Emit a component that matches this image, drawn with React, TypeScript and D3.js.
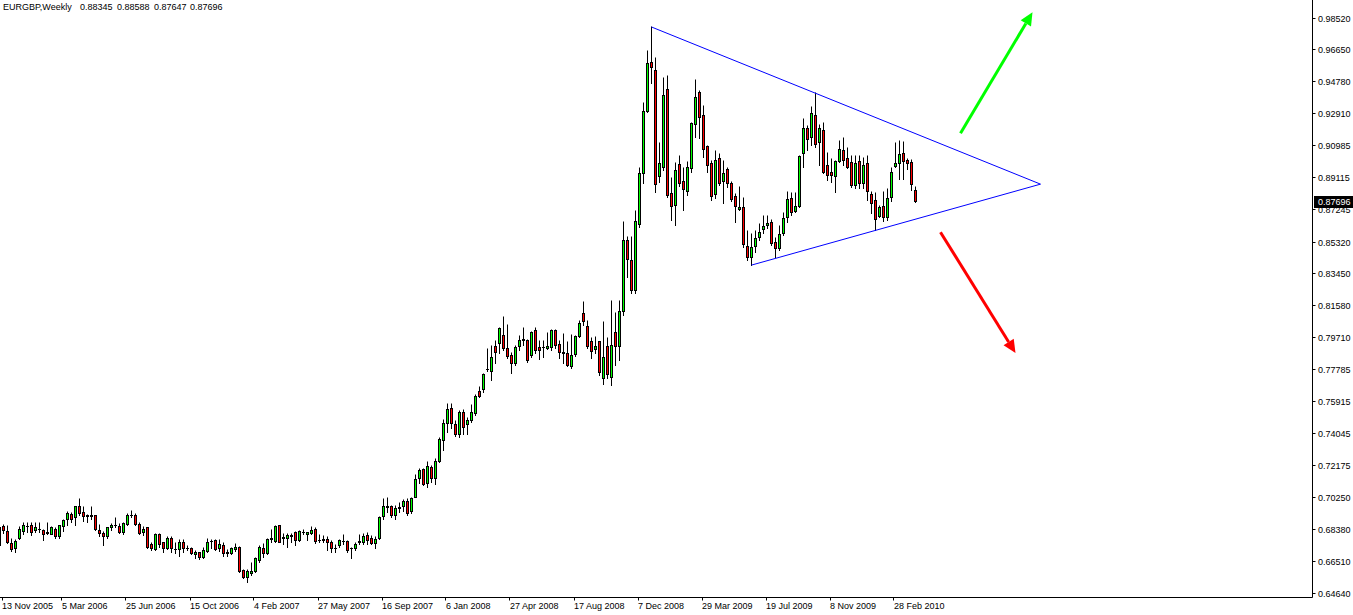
import React, { useEffect, useRef } from "react";
import * as d3 from "d3";

// EURGBP weekly bars, first bar = week of 13 Nov 2005
const symbolName = "EURGBP,Weekly";

const opens = [
  0.6746, 0.6853, 0.6829, 0.6753, 0.6729, 0.6788, 0.6829, 0.6853, 0.6864, 0.6835,
  0.6841, 0.6835, 0.6817, 0.6811, 0.6841, 0.6794, 0.6853, 0.6900, 0.6929, 0.6906,
  0.6971, 0.6941, 0.6918, 0.6915, 0.6918, 0.6835, 0.6817, 0.6794, 0.6847, 0.6859,
  0.6853, 0.6823, 0.6870, 0.6918, 0.6918, 0.6870, 0.6823, 0.6847, 0.6747, 0.6723,
  0.6811, 0.6759, 0.6729, 0.6788, 0.6723, 0.6723, 0.6759, 0.6729, 0.6729, 0.6688,
  0.6700, 0.6676, 0.6711, 0.6770, 0.6776, 0.6729, 0.6741, 0.6700, 0.6694, 0.6723,
  0.6735, 0.6594, 0.6558, 0.6576, 0.6588, 0.6658, 0.6729, 0.6694, 0.6782, 0.6770,
  0.6859, 0.6788, 0.6788, 0.6800, 0.6823, 0.6776, 0.6823, 0.6811, 0.6817, 0.6841,
  0.6776, 0.6776, 0.6782, 0.6764, 0.6729, 0.6741, 0.6770, 0.6770, 0.6729, 0.6729,
  0.6759, 0.6764, 0.6800, 0.6788, 0.6753, 0.6788, 0.6912, 0.6965, 0.6971, 0.6923,
  0.6959, 0.6971, 0.7006, 0.6947, 0.7029, 0.7136, 0.7194, 0.7112, 0.7206, 0.7136,
  0.7236, 0.7365, 0.7465, 0.7554, 0.7454, 0.7395, 0.7530, 0.7454, 0.7483, 0.7524,
  0.7654, 0.7666, 0.7778, 0.7772, 0.7919, 0.7937, 0.7984, 0.7907, 0.7866, 0.7819,
  0.7919, 0.7954, 0.7954, 0.7866, 0.8013, 0.7913, 0.7913, 0.7907, 0.7913, 0.8013,
  0.7931, 0.7883, 0.7878, 0.7801, 0.7872, 0.7978, 0.8113, 0.8037, 0.7943, 0.7901,
  0.7943, 0.7730, 0.7919, 0.7736, 0.7996, 0.7919, 0.8125, 0.8543, 0.8426, 0.8249,
  0.8637, 0.8938, 0.9303, 0.9592, 0.9545, 0.8920, 0.8973, 0.9433, 0.8820, 0.8749,
  0.8991, 0.8891, 0.8832, 0.8967, 0.9226, 0.9415, 0.9279, 0.9097, 0.8997, 0.8814,
  0.9026, 0.8891, 0.8962, 0.8879, 0.8802, 0.8726, 0.8738, 0.8508, 0.8443, 0.8508,
  0.8561, 0.8608, 0.8632, 0.8649, 0.8531, 0.8496, 0.8585, 0.8679, 0.8791, 0.8714,
  0.8744, 0.9056, 0.9203, 0.9150, 0.9279, 0.9120, 0.9191, 0.8985, 0.8944, 0.8920,
  0.9009, 0.9073, 0.9026, 0.9003, 0.8867, 0.9009, 0.8879, 0.8997, 0.8814, 0.8779,
  0.8685, 0.8744, 0.8679, 0.8797, 0.8979, 0.8997, 0.9056, 0.9015, 0.9003, 0.88345,
];

const highs = [
  0.6876, 0.6870, 0.6859, 0.6788, 0.6782, 0.6853, 0.6882, 0.6882, 0.6882, 0.6882,
  0.6882, 0.6838, 0.6882, 0.6853, 0.6847, 0.6864, 0.6900, 0.6947, 0.6941, 0.6976,
  0.7018, 0.6971, 0.6929, 0.6976, 0.6921, 0.6870, 0.6829, 0.6850, 0.6876, 0.6906,
  0.6876, 0.6882, 0.6935, 0.6953, 0.6935, 0.6882, 0.6853, 0.6850, 0.6759, 0.6817,
  0.6817, 0.6764, 0.6794, 0.6794, 0.6759, 0.6782, 0.6782, 0.6741, 0.6735, 0.6717,
  0.6705, 0.6735, 0.6788, 0.6782, 0.6779, 0.6782, 0.6759, 0.6723, 0.6735, 0.6753,
  0.6738, 0.6605, 0.6600, 0.6641, 0.6676, 0.6741, 0.6753, 0.6788, 0.6841, 0.6864,
  0.6864, 0.6817, 0.6817, 0.6817, 0.6829, 0.6835, 0.6841, 0.6823, 0.6853, 0.6847,
  0.6806, 0.6800, 0.6794, 0.6776, 0.6747, 0.6782, 0.6806, 0.6776, 0.6735, 0.6764,
  0.6811, 0.6817, 0.6823, 0.6800, 0.6794, 0.6912, 0.7018, 0.7029, 0.6982, 0.6982,
  0.7000, 0.7012, 0.7018, 0.7024, 0.7165, 0.7200, 0.7200, 0.7236, 0.7218, 0.7259,
  0.7383, 0.7489, 0.7583, 0.7583, 0.7483, 0.7542, 0.7548, 0.7501, 0.7577, 0.7636,
  0.7683, 0.7760, 0.7907, 0.7925, 0.7954, 0.8031, 0.8096, 0.8048, 0.7883, 0.7925,
  0.7984, 0.8031, 0.7960, 0.8007, 0.8031, 0.7954, 0.7954, 0.8001, 0.8019, 0.8019,
  0.7954, 0.7995, 0.7943, 0.7990, 0.7984, 0.8072, 0.8184, 0.8072, 0.7972, 0.7978,
  0.7946, 0.8066, 0.7972, 0.8190, 0.8119, 0.8190, 0.8655, 0.8567, 0.8567, 0.8720,
  0.8973, 0.9356, 0.9663, 0.9799, 0.9622, 0.9120, 0.9504, 0.9515, 0.8914, 0.9003,
  0.9044, 0.8973, 0.9009, 0.9238, 0.9491, 0.9427, 0.9338, 0.9103, 0.9015, 0.9073,
  0.9056, 0.9015, 0.8973, 0.8891, 0.8820, 0.8861, 0.8796, 0.8602, 0.8585, 0.8602,
  0.8643, 0.8690, 0.8690, 0.8667, 0.8561, 0.8632, 0.8708, 0.8832, 0.8826, 0.8826,
  0.9044, 0.9262, 0.9221, 0.9332, 0.9415, 0.9226, 0.9238, 0.9062, 0.9026, 0.9015,
  0.9132, 0.9150, 0.9091, 0.9044, 0.9044, 0.9044, 0.9032, 0.9044, 0.8832, 0.8826,
  0.8749, 0.8832, 0.8850, 0.8973, 0.9120, 0.9132, 0.9126, 0.9026, 0.9020, 0.88588,
];

const lows = [
  0.6717, 0.6817, 0.6753, 0.6711, 0.6705, 0.6782, 0.6806, 0.6823, 0.6800, 0.6823,
  0.6823, 0.6776, 0.6811, 0.6806, 0.6788, 0.6788, 0.6829, 0.6864, 0.6882, 0.6859,
  0.6923, 0.6888, 0.6882, 0.6900, 0.6835, 0.6794, 0.6741, 0.6788, 0.6835, 0.6847,
  0.6817, 0.6806, 0.6864, 0.6906, 0.6864, 0.6806, 0.6800, 0.6729, 0.6717, 0.6717,
  0.6735, 0.6705, 0.6723, 0.6705, 0.6694, 0.6682, 0.6700, 0.6717, 0.6688, 0.6670,
  0.6664, 0.6670, 0.6705, 0.6729, 0.6717, 0.6711, 0.6682, 0.6682, 0.6688, 0.6711,
  0.6582, 0.6552, 0.6523, 0.6570, 0.6582, 0.6641, 0.6676, 0.6688, 0.6764, 0.6764,
  0.6759, 0.6747, 0.6735, 0.6764, 0.6741, 0.6770, 0.6806, 0.6776, 0.6811, 0.6753,
  0.6759, 0.6759, 0.6717, 0.6705, 0.6700, 0.6735, 0.6747, 0.6705, 0.6670, 0.6717,
  0.6747, 0.6747, 0.6747, 0.6747, 0.6729, 0.6782, 0.6900, 0.6941, 0.6906, 0.6900,
  0.6941, 0.6947, 0.6923, 0.6935, 0.7024, 0.7112, 0.7100, 0.7083, 0.7118, 0.7106,
  0.7230, 0.7306, 0.7412, 0.7436, 0.7389, 0.7383, 0.7395, 0.7395, 0.7471, 0.7512,
  0.7613, 0.7648, 0.7772, 0.7719, 0.7819, 0.7878, 0.7895, 0.7848, 0.7760, 0.7807,
  0.7895, 0.7925, 0.7825, 0.7854, 0.7878, 0.7842, 0.7854, 0.7901, 0.7895, 0.7907,
  0.7848, 0.7819, 0.7801, 0.7789, 0.7860, 0.7972, 0.8043, 0.7907, 0.7848, 0.7878,
  0.7748, 0.7695, 0.7730, 0.7689, 0.7807, 0.7836, 0.8101, 0.8325, 0.8231, 0.8231,
  0.8620, 0.8879, 0.9297, 0.9468, 0.8826, 0.8885, 0.8956, 0.8796, 0.8661, 0.8632,
  0.8861, 0.8720, 0.8808, 0.8944, 0.9150, 0.9144, 0.9032, 0.8944, 0.8779, 0.8791,
  0.8867, 0.8761, 0.8855, 0.8773, 0.8649, 0.8720, 0.8502, 0.8426, 0.8396, 0.8473,
  0.8543, 0.8585, 0.8614, 0.8514, 0.8443, 0.8484, 0.8573, 0.8649, 0.8690, 0.8708,
  0.8738, 0.8973, 0.9073, 0.9103, 0.9091, 0.8985, 0.8938, 0.8897, 0.8885, 0.8826,
  0.9003, 0.8985, 0.8967, 0.8855, 0.8849, 0.8849, 0.8849, 0.8779, 0.8702, 0.8602,
  0.8679, 0.8655, 0.8661, 0.8773, 0.8973, 0.8903, 0.8903, 0.8961, 0.8838, 0.87647,
];

const closes = [
  0.6847, 0.6835, 0.6759, 0.6723, 0.6770, 0.6841, 0.6864, 0.6856, 0.6823, 0.6847,
  0.6838, 0.6811, 0.6820, 0.6847, 0.6794, 0.6859, 0.6894, 0.6935, 0.6900, 0.6971,
  0.6935, 0.6912, 0.6915, 0.6918, 0.6841, 0.6817, 0.6794, 0.6847, 0.6859, 0.6864,
  0.6823, 0.6876, 0.6918, 0.6923, 0.6870, 0.6817, 0.6841, 0.6735, 0.6729, 0.6811,
  0.6747, 0.6729, 0.6788, 0.6729, 0.6720, 0.6764, 0.6729, 0.6726, 0.6694, 0.6705,
  0.6676, 0.6717, 0.6764, 0.6767, 0.6723, 0.6747, 0.6694, 0.6697, 0.6729, 0.6735,
  0.6588, 0.6558, 0.6588, 0.6588, 0.6670, 0.6735, 0.6694, 0.6782, 0.6788, 0.6853,
  0.6764, 0.6791, 0.6800, 0.6797, 0.6776, 0.6829, 0.6820, 0.6823, 0.6835, 0.6770,
  0.6773, 0.6779, 0.6764, 0.6729, 0.6726, 0.6776, 0.6767, 0.6717, 0.6726, 0.6747,
  0.6770, 0.6794, 0.6776, 0.6753, 0.6782, 0.6906, 0.6971, 0.6971, 0.6918, 0.6959,
  0.6965, 0.7006, 0.6935, 0.7018, 0.7130, 0.7188, 0.7106, 0.7212, 0.7141, 0.7241,
  0.7371, 0.7465, 0.7548, 0.7465, 0.7395, 0.7530, 0.7442, 0.7483, 0.7530, 0.7624,
  0.7624, 0.7754, 0.7783, 0.7854, 0.7883, 0.8025, 0.7907, 0.7860, 0.7819, 0.7913,
  0.7954, 0.7960, 0.7836, 0.8001, 0.7895, 0.7895, 0.7910, 0.7919, 0.8013, 0.7925,
  0.7883, 0.7878, 0.7807, 0.7866, 0.7978, 0.8054, 0.8066, 0.7919, 0.7889, 0.7919,
  0.7766, 0.7854, 0.7754, 0.7925, 0.7919, 0.8125, 0.8543, 0.8431, 0.8249, 0.8655,
  0.8938, 0.9303, 0.9586, 0.9562, 0.8873, 0.8997, 0.9397, 0.8808, 0.8744, 0.8956,
  0.8879, 0.8844, 0.8973, 0.9232, 0.9385, 0.9268, 0.9079, 0.8985, 0.8802, 0.9015,
  0.8879, 0.8938, 0.8879, 0.8785, 0.8744, 0.8738, 0.8520, 0.8443, 0.8502, 0.8555,
  0.8590, 0.8626, 0.8643, 0.8526, 0.8496, 0.8579, 0.8673, 0.8785, 0.8708, 0.8744,
  0.9038, 0.9203, 0.9138, 0.9291, 0.9108, 0.9203, 0.8944, 0.8926, 0.8926, 0.9009,
  0.9079, 0.9015, 0.8973, 0.8867, 0.8997, 0.8879, 0.8985, 0.8832, 0.8761, 0.8667,
  0.8738, 0.8679, 0.8791, 0.8944, 0.8997, 0.9050, 0.9009, 0.8997, 0.8873, 0.87696,
];

// time axis labels, one every 16 bars
const dateLabels = [
  "13 Nov 2005", "5 Mar 2006", "25 Jun 2006", "15 Oct 2006", "4 Feb 2007",
  "27 May 2007", "16 Sep 2007", "6 Jan 2008", "27 Apr 2008", "17 Aug 2008",
  "7 Dec 2008", "29 Mar 2009", "19 Jul 2009", "8 Nov 2009", "28 Feb 2010",
];
const labelStep = 16;

const priceLabels = [
  "0.98520", "0.96650", "0.94780", "0.92910", "0.90985", "0.89115", "0.87245",
  "0.85320", "0.83450", "0.81580", "0.79710", "0.77785", "0.75915", "0.74045",
  "0.72175", "0.70250", "0.68380", "0.66510", "0.64640",
];

// triangle: [bar index, price]
const upperLine = [[163, 0.9799], [260.25, 0.8873]];
const lowerLine = [[188, 0.8396], [260.25, 0.8873]];
const upArrow = [[240.25, 0.9173], [258.25, 0.9886]];
const downArrow = [[235.25, 0.8590], [254, 0.7878]];

const W = 1353;
const H = 615;
const axisX = 1312.5;
const axisY = 597.5;
const FONT = "'Liberation Sans', Arial, sans-serif";

function App() {
  const ref = useRef(null);

  useEffect(() => {
    const svg = d3.select(ref.current);
    svg.selectAll("*").remove();

    const n = closes.length;
    const x = d3.scaleLinear().domain([0, n - 1]).range([-0.5, 915.5]);
    const y = d3.scaleLinear().domain([0.6464, 0.9852]).range([593, 18]);
    const snap = (v) => Math.floor(v) + 0.5;

    // candles
    const g = svg.append("g");
    for (let i = 0; i < n; i++) {
      const o = opens[i], c = closes[i];
      const cx = x(i);
      g.append("line")
        .attr("x1", cx).attr("x2", cx)
        .attr("y1", snap(y(highs[i]))).attr("y2", snap(y(lows[i])) + 0.5)
        .attr("stroke", "#000").attr("stroke-width", 1);
      const top = snap(y(Math.max(o, c)));
      const bot = snap(y(Math.min(o, c)));
      if (bot - top < 1) {
        g.append("line")
          .attr("x1", cx - 1.5).attr("x2", cx + 1.5)
          .attr("y1", top).attr("y2", top)
          .attr("stroke", "#000");
      } else {
        g.append("rect")
          .attr("x", cx - 1).attr("y", top)
          .attr("width", 2).attr("height", bot - top)
          .attr("fill", c > o ? "#00ff00" : "#ff0000")
          .attr("stroke", "#000").attr("stroke-width", 1);
      }
    }

    // triangle trend lines
    const line = d3.line().x((d) => x(d[0])).y((d) => y(d[1]));
    [upperLine, lowerLine].forEach((pts) => {
      svg.append("path").attr("d", line(pts))
        .attr("fill", "none").attr("stroke", "#0000ff").attr("stroke-width", 1);
    });

    // arrows
    const arrow = (pts, color) => {
      const [x1, y1] = [x(pts[0][0]), y(pts[0][1])];
      const [x2, y2] = [x(pts[1][0]), y(pts[1][1])];
      const ang = Math.atan2(y2 - y1, x2 - x1);
      const hl = 13, hw = 6;
      const bx = x2 - hl * Math.cos(ang), by = y2 - hl * Math.sin(ang);
      svg.append("line")
        .attr("x1", x1).attr("y1", y1).attr("x2", bx).attr("y2", by)
        .attr("stroke", color).attr("stroke-width", 3);
      const px = -Math.sin(ang), py = Math.cos(ang);
      svg.append("path")
        .attr("d", `M${x2},${y2}L${bx + px * hw},${by + py * hw}L${bx - px * hw},${by - py * hw}Z`)
        .attr("fill", color);
    };
    arrow(upArrow, "#00ff00");
    arrow(downArrow, "#ff0000");

    // axes frame
    svg.append("line").attr("x1", axisX).attr("x2", axisX).attr("y1", 0).attr("y2", axisY)
      .attr("stroke", "#000");
    svg.append("line").attr("x1", 0).attr("x2", axisX).attr("y1", axisY).attr("y2", axisY)
      .attr("stroke", "#000");

    // price scale
    const pg = svg.append("g");
    priceLabels.forEach((lbl) => {
      const py = snap(y(+lbl));
      pg.append("line").attr("x1", axisX).attr("x2", axisX + 3).attr("y1", py).attr("y2", py)
        .attr("stroke", "#000");
      pg.append("text").attr("x", 1318).attr("y", py).attr("dy", "0.35em")
        .attr("font-family", FONT).attr("font-size", 9).attr("fill", "#000").text(lbl);
    });

    // current price marker
    const last = closes[n - 1];
    const ly = y(last);
    svg.append("rect").attr("x", 1314).attr("y", Math.round(ly) - 6).attr("width", 39).attr("height", 12)
      .attr("fill", "#000");
    svg.append("text").attr("x", 1318).attr("y", ly).attr("dy", "0.35em")
      .attr("font-family", FONT).attr("font-size", 9).attr("fill", "#fff")
      .text(d3.format(".5f")(last));

    // time scale
    const tg = svg.append("g");
    dateLabels.forEach((lbl, j) => {
      const tx = Math.max(x(j * labelStep) - 1.5, 2);
      tg.append("line").attr("x1", snap(tx)).attr("x2", snap(tx)).attr("y1", axisY).attr("y2", axisY + 3)
        .attr("stroke", "#000");
      tg.append("text").attr("x", tx).attr("y", 609)
        .attr("font-family", FONT).attr("font-size", 9).attr("fill", "#000").text(lbl);
    });

    // header
    const header = [symbolName, opens[n - 1], highs[n - 1], lows[n - 1], closes[n - 1]];
    const hx = [3, 80, 117, 154, 190];
    header.forEach((v, j) => {
      svg.append("text").attr("x", hx[j]).attr("y", 10)
        .attr("font-family", FONT).attr("font-size", 9).attr("fill", "#000")
        .text(typeof v === "number" ? d3.format(".5f")(v) : v);
    });
  }, []);

  return (
    <svg
      ref={ref}
      width={W}
      height={H}
      style={{ position: "absolute", left: 0, top: 0, background: "#fff", display: "block" }}
    />
  );
}

export default App;
